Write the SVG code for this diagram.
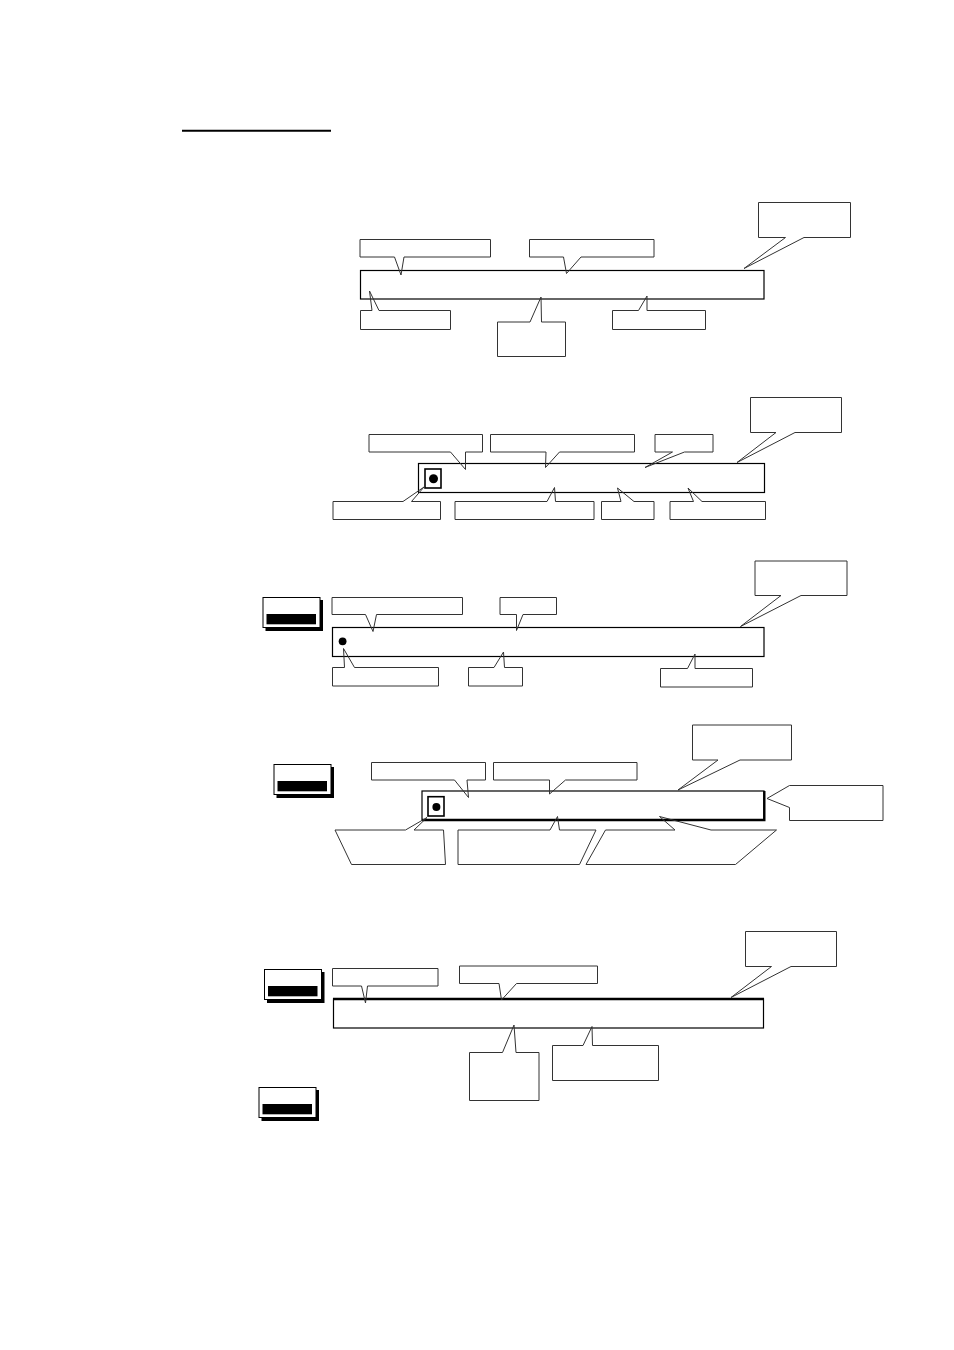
<svg xmlns="http://www.w3.org/2000/svg" width="954" height="1350" viewBox="0 0 954 1350">
<style>
.bg{fill:#fff}
.bar{fill:#fff;stroke:#000;stroke-width:1.2}
.co{fill:none;stroke:#333;stroke-width:1;stroke-linejoin:miter}
.sq{fill:none;stroke:#000;stroke-width:1.6}
.dot{fill:#000}
.btn{fill:#fff;stroke:#000;stroke-width:1}
.shd{fill:#000}
.ink{fill:#000}
.thick{stroke:#000;stroke-width:2.4;fill:none}
</style>
<defs>
<g id="button">
<rect class="shd" x="3" y="3" width="57.5" height="31"/>
<rect class="btn" x="0.5" y="0.5" width="57" height="30"/>
<rect class="ink" x="4" y="17" width="49.5" height="10.3"/>
</g>
</defs>
<rect class="bg" x="0" y="0" width="954" height="1350"/>
<g id="title-underline"><line x1="182" y1="130.7" x2="331" y2="130.7" stroke="#000" stroke-width="2"/></g>

<g id="section1">
<rect id="s1-bar" class="bar" x="360.5" y="270.5" width="403.5" height="28.5"/>
<path id="s1-tl" class="co" d="M360,239.5 H490.5 V257 H404 L401,275 L394.5,257 H360 Z"/>
<path id="s1-tm" class="co" d="M529.5,239.5 H654 V257 H581 L566.5,273.5 L563.5,257 H529.5 Z"/>
<path id="s1-tr" class="co" d="M758.5,202.5 H850.5 V237.5 H804 L744,268.5 L785.5,237.5 H758.5 Z"/>
<path id="s1-bl" class="co" d="M360.5,310.5 H372 L369.5,291 L379,310.5 H450.5 V329.5 H360.5 Z"/>
<path id="s1-bm" class="co" d="M497.5,322 H530 L541,297 L541.5,322 H565.5 V356.5 H497.5 Z"/>
<path id="s1-br" class="co" d="M612.5,310.5 H638.5 L647,296 V310.5 H705.5 V329.5 H612.5 Z"/>
</g>

<g id="section2">
<rect id="s2-bar" class="bar" x="418.5" y="463.5" width="346" height="29"/>
<rect id="s2-square" class="sq" x="425" y="469" width="16" height="19"/>
<circle id="s2-dot" class="dot" cx="433.5" cy="478.7" r="4.5"/>
<path id="s2-a" class="co" d="M369,434.5 H482.5 V452 H465.5 L465.5,469.5 L450.5,452 H369 Z"/>
<path id="s2-b" class="co" d="M490.5,434.5 H634.5 V452 H559.5 L545.5,467.5 L546,452 H490.5 Z"/>
<path id="s2-c" class="co" d="M655,434.5 H713 V452 H684.5 L645,467.5 L672.5,452 H655 Z"/>
<path id="s2-tr" class="co" d="M750.5,397.5 H841.5 V432.5 H795 L737,462.5 L776,432.5 H750.5 Z"/>
<path id="s2-d" class="co" d="M333,501.5 H403 L424,487 L411.5,501.5 H440.5 V519.5 H333 Z"/>
<path id="s2-e" class="co" d="M455,501.5 H547 L554.5,487.5 L555.5,501.5 H594 V519.5 H455 Z"/>
<path id="s2-f" class="co" d="M601.5,501.5 H621 L617.5,488 L634,501.5 H654 V519.5 H601.5 Z"/>
<path id="s2-g" class="co" d="M670,501.5 H693.5 L688,488 L702,501.5 H765.5 V519.5 H670 Z"/>
</g>

<g id="section3">
<use id="s3-button" href="#button" x="262.5" y="597"/>
<rect id="s3-bar" class="bar" x="332.5" y="627.5" width="431.5" height="29"/>
<circle id="s3-dot" class="dot" cx="342.6" cy="641.3" r="3.9"/>
<path id="s3-a" class="co" d="M332,597.5 H462.5 V614.5 H376.5 L373,631.5 L365.5,614.5 H332 Z"/>
<path id="s3-b" class="co" d="M500,597.5 H556.5 V614.5 H523 L516.5,630.5 L516.5,614.5 H500 Z"/>
<path id="s3-tr" class="co" d="M755,561 H847 V595.5 H801 L740.5,626.5 L781,595.5 H755 Z"/>
<path id="s3-bl" class="co" d="M332.5,667.5 H344.5 L343.5,648.5 L354.5,667.5 H438.5 V686 H332.5 Z"/>
<path id="s3-bm" class="co" d="M468.5,667.5 H494 L503.5,652 L504.5,667.5 H522.5 V686 H468.5 Z"/>
<path id="s3-br" class="co" d="M660.5,668.5 H687.5 L695,654 V668.5 H752.5 V687 H660.5 Z"/>
</g>

<g id="section4">
<use id="s4-button" href="#button" x="273.5" y="764"/>
<rect id="s4-bar" class="bar" x="422" y="791" width="342" height="29"/>
<polyline class="thick" points="422,820 764.3,820 764.3,791"/>
<rect id="s4-square" class="sq" x="428" y="796.7" width="16" height="19.3"/>
<circle id="s4-dot" class="dot" cx="436.4" cy="807" r="4"/>
<path id="s4-a" class="co" d="M371.5,762.5 H485.5 V780 H467 L468.5,797.5 L454.5,780 H371.5 Z"/>
<path id="s4-b" class="co" d="M493.5,762.5 H637 V780 H565.5 L549.5,794 L549.5,780 H493.5 Z"/>
<path id="s4-tr" class="co" d="M692.5,725 H791.5 V760 H740 L678,790 L718,760 H692.5 Z"/>
<path id="s4-r" class="co" d="M789.5,785.5 H883 V820.5 H789.5 V807.5 L767,798.5 Z"/>
<path id="s4-bl" class="co" d="M335,830 H405.5 L427,817.5 L414,830 H443.5 L445.5,864.5 H351.5 Z"/>
<path id="s4-bm" class="co" d="M458,830 H550 L557.5,816.5 L559.5,830 H596 L579.5,864.5 H458 Z"/>
<path id="s4-br" class="co" d="M605.5,830 H675 L659.5,816.5 L711,830 H776.5 L735.5,864.5 H586 Z"/>
</g>

<g id="section5">
<use id="s5-button1" href="#button" x="264" y="969"/>
<use id="s5-button2" href="#button" x="258.5" y="1087"/>
<rect id="s5-bar" class="bar" x="333.5" y="999" width="430" height="29"/>
<line class="thick" x1="333" y1="999" x2="764" y2="999"/>
<path id="s5-a" class="co" d="M332.5,968.5 H438 V986 H367.5 L365.5,1003 L361.5,986 H332.5 Z"/>
<path id="s5-b" class="co" d="M459.5,966 H597.5 V983.5 H516.5 L501.5,1000 L499,983.5 H459.5 Z"/>
<path id="s5-tr" class="co" d="M745.5,931.5 H836.5 V966.5 H791 L731,997.5 L771.5,966.5 H745.5 Z"/>
<path id="s5-bl" class="co" d="M469.5,1052.5 H502.5 L514,1025 L516,1052.5 H539 V1100.5 H469.5 Z"/>
<path id="s5-br" class="co" d="M552.5,1045.5 H583 L592,1026.5 L592.5,1045.5 H658.5 V1080.5 H552.5 Z"/>
</g>
</svg>
